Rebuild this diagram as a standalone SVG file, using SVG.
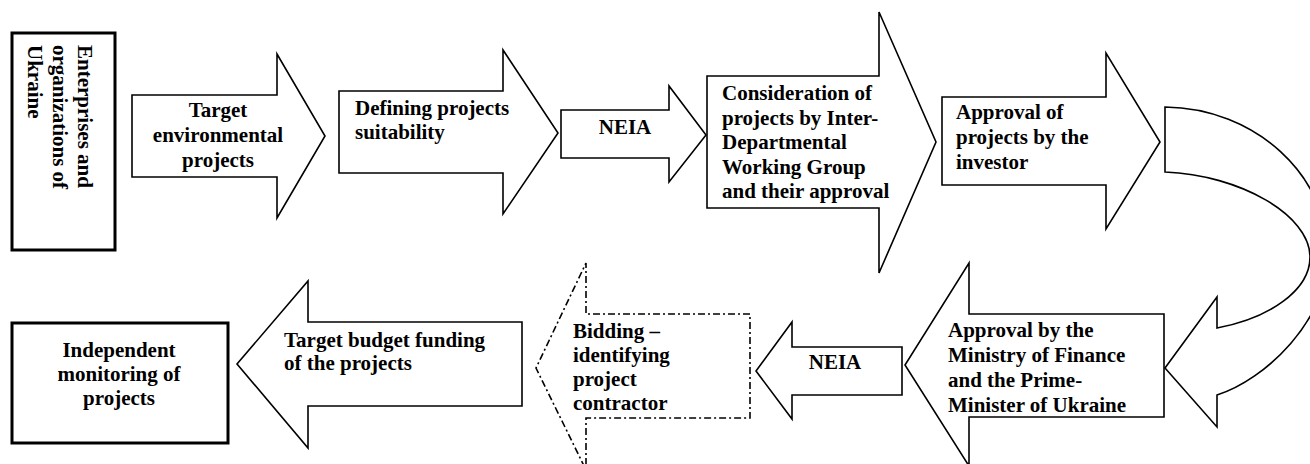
<svg xmlns="http://www.w3.org/2000/svg" width="1310" height="464" viewBox="0 0 1310 464">
<style>
.box{fill:#fff;stroke:#000;stroke-width:3}
.arr{fill:#fff;stroke:#000;stroke-width:1.6;stroke-linejoin:miter}
.dash{fill:#fff;stroke:#000;stroke-width:1.6;stroke-dasharray:7 3 2 3}
text{font-family:"Liberation Serif","Times New Roman",serif;font-weight:bold;font-size:21px;fill:#000}
.c{text-anchor:middle}
</style>
<rect width="1310" height="464" fill="#fff"/>
<g id="connectors">
  <g id="curved-arrow">
    <path class="arr" d="M1165,107 C1255,108 1328,175 1328,255 C1328,320 1265,380 1217,395 L1217,427 L1165,368 L1217,297 L1217,328 C1270,318 1310,290 1310,257 C1310,215 1240,175 1165,172 Z"/>
  </g>
</g>
<g id="n-enterprises">
  <rect class="box" x="12" y="33" width="103" height="217"/>
  <text transform="rotate(90)" x="45" y="-78">Enterprises and</text>
  <text transform="rotate(90)" x="45" y="-53">organizations of</text>
  <text transform="rotate(90)" x="45" y="-28">Ukraine</text>
</g>
<g id="n-target-env">
  <path class="arr" d="M132,95 L277,95 L277,54 L325,136 L277,218 L277,177 L132,177 Z"/>
  <text class="c" x="218" y="117">Target</text>
  <text class="c" x="218" y="142">environmental</text>
  <text class="c" x="218" y="167">projects</text>
</g>
<g id="n-defining">
  <path class="arr" d="M339,91 L503,91 L503,50 L558,133 L503,214 L503,173 L339,173 Z"/>
  <text x="355" y="115">Defining projects</text>
  <text x="355" y="139">suitability</text>
</g>
<g id="n-neia1">
  <path class="arr" d="M561,110 L669,110 L669,86 L706,135 L669,182 L669,158 L561,158 Z"/>
  <text class="c" x="625" y="134">NEIA</text>
</g>
<g id="n-consideration">
  <path class="arr" d="M707,76 L879,76 L879,12 L936,142 L879,273 L879,208 L707,208 Z"/>
  <text x="722" y="100">Consideration of</text>
  <text x="722" y="124.5">projects by Inter-</text>
  <text x="722" y="149">Departmental</text>
  <text x="722" y="173.5">Working Group</text>
  <text x="722" y="198">and their approval</text>
</g>
<g id="n-investor">
  <path class="arr" d="M942,97 L1106,97 L1106,53 L1160,142 L1106,229 L1106,185 L942,185 Z"/>
  <text x="956" y="119">Approval of</text>
  <text x="956" y="144">projects by the</text>
  <text x="956" y="169">investor</text>
</g>
<g id="n-ministry">
  <path class="arr" d="M1164,314 L969,314 L969,263 L905,365 L969,466 L969,417 L1164,417 Z"/>
  <text x="948" y="337">Approval by the</text>
  <text x="948" y="362">Ministry of Finance</text>
  <text x="948" y="387">and the Prime-</text>
  <text x="948" y="412">Minister of Ukraine</text>
</g>
<g id="n-neia2">
  <path class="arr" d="M902,347 L792,347 L792,322 L756,371 L792,419 L792,395 L902,395 Z"/>
  <text class="c" x="835" y="369">NEIA</text>
</g>
<g id="n-bidding">
  <path class="dash" d="M750,314 L586,314 L586,263 L536,368 L586,470 L586,418 L750,418 Z"/>
  <text x="573" y="338">Bidding –</text>
  <text x="573" y="362">identifying</text>
  <text x="573" y="386">project</text>
  <text x="573" y="410">contractor</text>
</g>
<g id="n-budget">
  <path class="arr" d="M522,322 L308,322 L308,281 L237,364 L308,448 L308,406 L522,406 Z"/>
  <text x="284" y="347">Target budget funding</text>
  <text x="284" y="370">of the projects</text>
</g>
<g id="n-monitoring">
  <rect class="box" x="12" y="323" width="216" height="120"/>
  <text class="c" x="119" y="357">Independent</text>
  <text class="c" x="119" y="381">monitoring of</text>
  <text class="c" x="119" y="405">projects</text>
</g>
</svg>
